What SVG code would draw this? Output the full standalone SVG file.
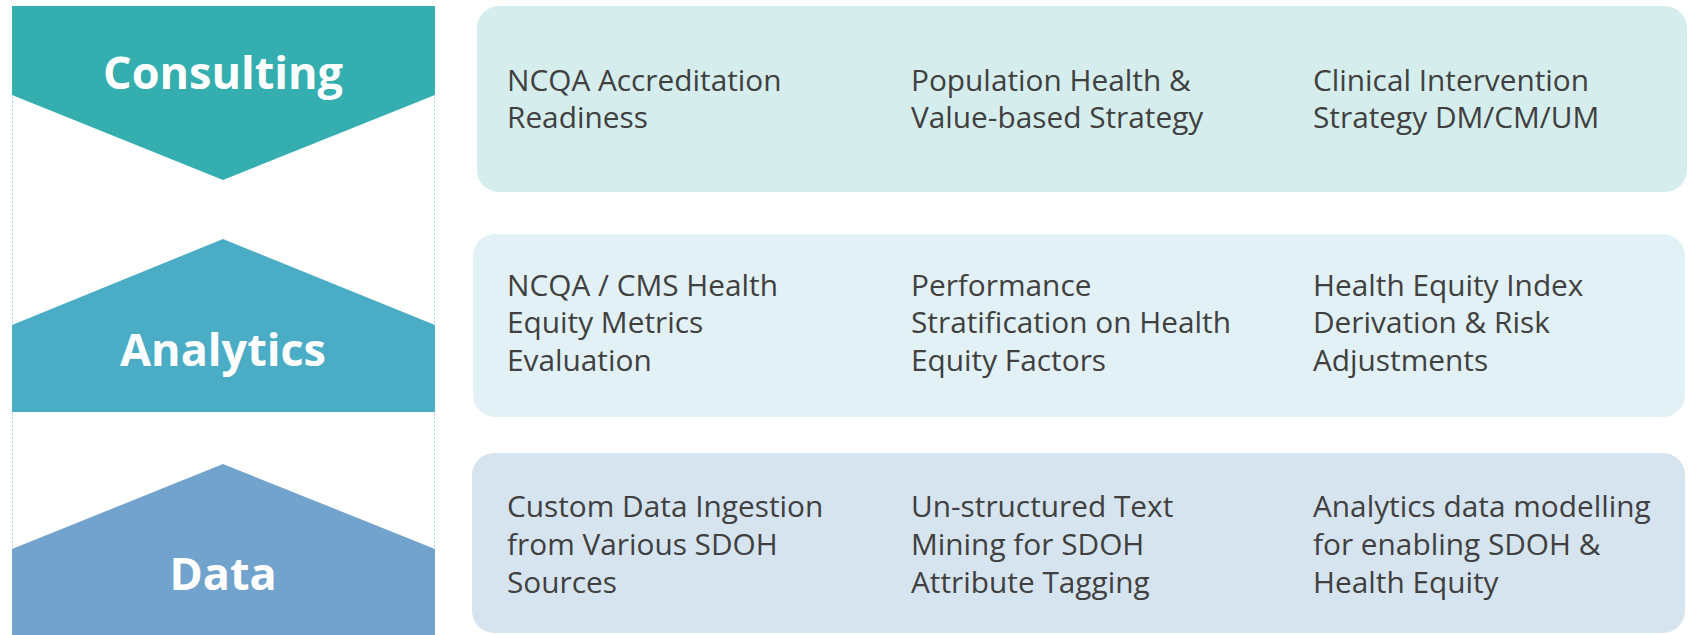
<svg xmlns="http://www.w3.org/2000/svg" width="1691" height="635" viewBox="0 0 1691 635">
<style>
.lbl{font-family:"Open Sans","Noto Sans","Liberation Sans",sans-serif;font-weight:700;font-size:45px;fill:#FFFFFF;text-anchor:middle}
.item{font-family:"Open Sans","Noto Sans","Liberation Sans",sans-serif;font-size:29.8px;fill:#404040}
.guide{stroke:#A8D8E4;stroke-width:1;stroke-dasharray:2 2;fill:none}
</style>
<rect width="1691" height="635" fill="#FFFFFF"/>
<g id="guides">
<line class="guide" x1="12.5" y1="45" x2="12.5" y2="635"/>
<line class="guide" x1="434.5" y1="45" x2="434.5" y2="635"/>
</g>
<g id="consulting">
<polygon points="12,6 435,6 435,95 223,180 12,95" fill="#35AEAF"/>
<text class="lbl" x="223" y="89">Consulting</text>
</g>
<g id="analytics">
<polygon points="223,239 435,325 435,412 12,412 12,325" fill="#4BACC6"/>
<text class="lbl" x="223" y="366">Analytics</text>
</g>
<g id="data">
<polygon points="223,464 435,549 435,635 12,635 12,549" fill="#72A3CD"/>
<text class="lbl" x="223" y="590">Data</text>
</g>
<g id="consulting-panel">
<rect x="477" y="6" width="1210" height="186" rx="22" fill="#D5EDED"/>
<text class="item" x="507" y="91">NCQA Accreditation</text>
<text class="item" x="507" y="128">Readiness</text>
<text class="item" x="911" y="91">Population Health &amp;</text>
<text class="item" x="911" y="128">Value-based Strategy</text>
<text class="item" x="1313" y="91">Clinical Intervention</text>
<text class="item" x="1313" y="128">Strategy DM/CM/UM</text>
</g>
<g id="analytics-panel">
<rect x="473" y="234" width="1212" height="183" rx="22" fill="#E2F1F5"/>
<text class="item" x="507" y="296">NCQA / CMS Health</text>
<text class="item" x="507" y="333">Equity Metrics</text>
<text class="item" x="507" y="371">Evaluation</text>
<text class="item" x="911" y="296">Performance</text>
<text class="item" x="911" y="333">Stratification on Health</text>
<text class="item" x="911" y="371">Equity Factors</text>
<text class="item" x="1313" y="296">Health Equity Index</text>
<text class="item" x="1313" y="333">Derivation &amp; Risk</text>
<text class="item" x="1313" y="371">Adjustments</text>
</g>
<g id="data-panel">
<rect x="472" y="453" width="1213" height="180" rx="22" fill="#D6E4EF"/>
<text class="item" x="507" y="517">Custom Data Ingestion</text>
<text class="item" x="507" y="555">from Various SDOH</text>
<text class="item" x="507" y="593">Sources</text>
<text class="item" x="911" y="517">Un-structured Text</text>
<text class="item" x="911" y="555">Mining for SDOH</text>
<text class="item" x="911" y="593">Attribute Tagging</text>
<text class="item" x="1313" y="517">Analytics data modelling</text>
<text class="item" x="1313" y="555">for enabling SDOH &amp;</text>
<text class="item" x="1313" y="593">Health Equity</text>
</g>
</svg>
